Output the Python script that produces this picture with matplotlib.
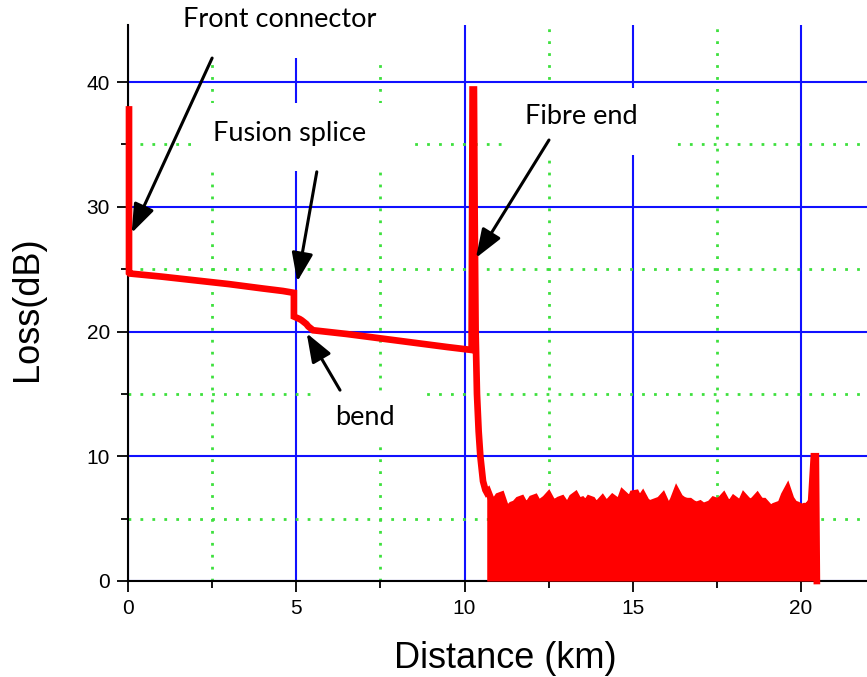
import matplotlib
matplotlib.use("Agg")
import matplotlib.pyplot as plt
from matplotlib.ticker import MultipleLocator
from matplotlib.patches import Rectangle

# ---- data ----
# main OTDR trace (km, dB)
trace_x = [0.03, 0.03, 0.05, 1.0, 2.0, 2.5, 3.0, 4.0, 4.6, 4.93,
           4.93, 5.1, 5.16, 5.3, 5.36, 5.5, 6.5, 7.5, 8.5, 9.5, 10.21,
           10.24, 10.28, 10.30, 10.33, 10.37, 10.42, 10.47, 10.55, 10.62, 10.66]
trace_y = [37.8, 24.7, 24.65, 24.4, 24.1, 23.95, 23.8, 23.45, 23.25, 23.1,
           21.2, 21.0, 20.9, 20.6, 20.4, 20.1, 19.8, 19.45, 19.1, 18.75, 18.52,
           39.4, 39.4, 30.0, 20.0, 15.0, 12.0, 10.0, 8.0, 7.3, 7.1]

# upper envelope of the noise floor after the fibre end (km, dB)
noise_x = [10.66, 10.7, 10.8, 10.9, 11.0, 11.1, 11.2, 11.3, 11.4, 11.5, 11.6,
           11.7, 11.8, 11.9, 12.0, 12.1, 12.2, 12.3, 12.4, 12.5, 12.6, 12.7,
           12.8, 12.9, 13.0, 13.1, 13.2, 13.3, 13.4, 13.5, 13.6, 13.7, 13.8,
           13.9, 14.0, 14.1, 14.2, 14.3, 14.4, 14.5, 14.6, 14.7, 14.8, 14.9,
           15.0, 15.1, 15.2, 15.3, 15.4, 15.5, 15.6, 15.7, 15.8, 15.9, 16.0,
           16.1, 16.2, 16.3, 16.4, 16.5, 16.6, 16.7, 16.8, 16.9, 17.0, 17.1,
           17.2, 17.3, 17.4, 17.5, 17.6, 17.7, 17.8, 17.9, 18.0, 18.1, 18.2,
           18.3, 18.4, 18.5, 18.6, 18.7, 18.8, 18.9, 19.0, 19.1, 19.2, 19.3,
           19.4, 19.5, 19.6, 19.7, 19.8, 19.9, 20.0, 20.1, 20.2, 20.3,
           20.38, 20.44, 20.47]
noise_y = [7.1, 7.2, 6.5, 6.4, 6.8, 6.9, 6.1, 5.8, 6.1, 6.2, 6.5,
           6.6, 6.1, 6.2, 6.6, 6.7, 6.2, 6.4, 6.6, 6.9, 6.4, 6.3,
           6.5, 6.6, 6.2, 6.2, 6.7, 6.9, 6.4, 6.5, 6.2, 6.6, 6.5,
           6.1, 6.3, 6.6, 6.2, 6.4, 6.7, 6.5, 6.3, 7.05, 6.8, 6.3,
           7.0, 7.05, 6.5, 6.9, 6.4, 6.2, 6.3, 6.4, 6.5, 6.8, 6.2,
           6.0, 6.5, 7.2, 6.7, 6.5, 6.4, 6.4, 6.2, 6.1, 6.2, 6.0,
           6.1, 6.2, 6.5, 6.4, 6.5, 6.8, 6.3, 6.2, 6.6, 6.4, 6.2,
           6.8, 6.5, 6.3, 6.5, 6.8, 6.4, 6.4, 6.1, 5.8, 6.0, 6.1,
           6.2, 6.9, 7.4, 6.6, 6.2, 6.1, 5.9, 6.0, 6.0, 6.4,
           10.0, 10.0, 0.0]

x_ticks = [0, 5, 10, 15, 20]
y_ticks = [0, 10, 20, 30, 40]

labels = ["Front connector", "Fusion splice", "bend", "Fibre end"]

# ---- figure ----
fig = plt.figure(figsize=(8.67, 6.77), dpi=100)
ax = fig.add_axes([128 / 867, 96 / 677, 739 / 867, 556 / 677])
ax.set_xlim(0, 21.96)
ax.set_ylim(0, 44.57)

for s in ["top", "right"]:
    ax.spines[s].set_visible(False)
for s in ["left", "bottom"]:
    ax.spines[s].set_linewidth(1.5)
    ax.spines[s].set_color("black")

ax.set_xticks(x_ticks)
ax.set_yticks(y_ticks)
ax.xaxis.set_minor_locator(MultipleLocator(2.5))
ax.yaxis.set_minor_locator(MultipleLocator(5))
ax.tick_params(which="major", length=8, width=1.3, direction="out",
               labelsize=15, pad=5)
ax.tick_params(which="minor", length=5, width=1.3, direction="out")
for lab in ax.get_xticklabels() + ax.get_yticklabels():
    lab.set_fontfamily("Liberation Sans")

ax.set_axisbelow(True)
ax.grid(which="major", color="#1010ff", lw=1.5)
ax.grid(which="minor", color="#3ee03e", lw=2.0, linestyle=(0, (1, 3.3)))

ax.set_xlabel("Distance (km)", fontsize=26, family="Liberation Sans")
ax.set_ylabel("Loss(dB)", fontsize=26, family="Liberation Sans")
ax.xaxis.set_label_coords(0.51, -0.108)
ax.yaxis.set_label_coords(-0.112, 0.49)

# white label boxes hiding the grid
boxes = [(1.55, 41.92, 7.64, 46.0), (1.99, 32.87, 8.38, 38.3),
         (5.56, 10.9, 8.68, 15.15), (11.11, 34.15, 16.32, 39.52)]
for x0, y0, x1, y1 in boxes:
    ax.add_patch(Rectangle((x0, y0), x1 - x0, y1 - y0, facecolor="white",
                           edgecolor="none", zorder=1.5))

# trace
ax.fill_between(noise_x, 0, noise_y, color="#ff0000", lw=0, zorder=3)
ax.plot(trace_x + noise_x, trace_y + noise_y, color="#ff0000", lw=4.8,
        solid_joinstyle="miter", zorder=3, clip_on=False)

# annotations
tfont = dict(family=["Lato", "DejaVu Sans"], fontsize=19.5, color="black")
arrow = dict(arrowstyle="-|>,head_length=0.7,head_width=0.26",
             color="black", lw=2.2, mutation_scale=25, shrinkA=0, shrinkB=0)
ax.annotate("", xy=(0.11, 27.9), xytext=(2.5, 41.92), arrowprops=arrow, zorder=4)
ax.annotate("", xy=(5.03, 24.0), xytext=(5.61, 32.8), arrowprops=arrow, zorder=4)
ax.annotate("", xy=(5.31, 19.86), xytext=(6.30, 15.3), arrowprops=arrow, zorder=4)
ax.annotate("", xy=(10.34, 25.9), xytext=(12.51, 35.35), arrowprops=arrow, zorder=4)

ax.text(4.52, 45.04, labels[0], ha="center", va="center", zorder=5,
        clip_on=False, **tfont)
ax.text(4.81, 35.84, labels[1], ha="center", va="center", zorder=5, **tfont)
ax.text(7.04, 13.1, labels[2], ha="center", va="center", zorder=5, **tfont)
ax.text(13.46, 37.2, labels[3], ha="center", va="center", zorder=5, **tfont)

fig.savefig("out.png", dpi=100)
